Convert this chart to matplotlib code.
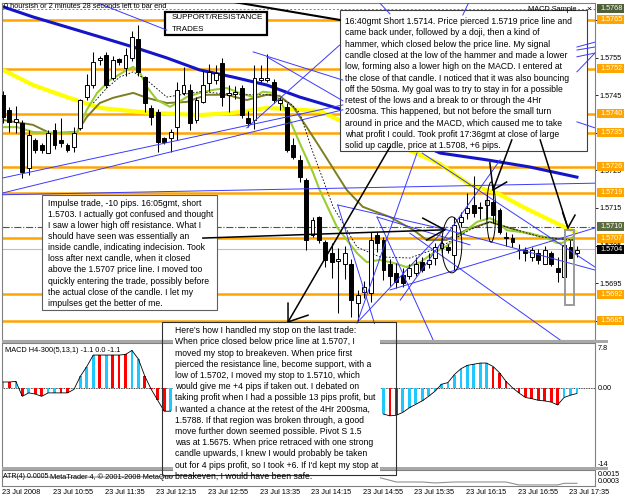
import matplotlib
matplotlib.use("Agg")
import matplotlib.pyplot as plt
import matplotlib.transforms as mtransforms
from matplotlib.patches import Rectangle, Ellipse
import numpy as np

# ---------------- data ----------------
time_labels = ["23 Jul 2008", "23 Jul 10:55", "23 Jul 11:35", "23 Jul 12:15", "23 Jul 12:55",
               "23 Jul 13:35", "23 Jul 14:15", "23 Jul 14:55", "23 Jul 15:35", "23 Jul 16:15",
               "23 Jul 16:55", "23 Jul 17:35"]
time_label_bars = [0, 8, 16, 24, 32, 40, 48, 56, 64, 72, 80, 88]

opens = [1.57450, 1.57410, 1.57378, 1.57376, 1.57256, 1.57330, 1.57318, 1.57296, 1.57357, 1.57330,
         1.57318, 1.57313, 1.57363, 1.57445, 1.57477, 1.57544, 1.57557, 1.57496, 1.57545, 1.57522,
         1.57549, 1.57600, 1.57498, 1.57416, 1.57405, 1.57336, 1.57336, 1.57365, 1.57456, 1.57464,
         1.57384, 1.57432, 1.57482, 1.57490, 1.57536, 1.57450, 1.57454, 1.57469, 1.57390, 1.57384,
         1.57490, 1.57490, 1.57485, 1.57430, 1.57419, 1.57318, 1.57278, 1.57224, 1.57078, 1.57126,
         1.57060, 1.57030, 1.57010, 1.57002, 1.57002, 1.56897, 1.56927, 1.56924, 1.57078, 1.57065,
         1.57002, 1.56977, 1.56972, 1.56969, 1.56977, 1.57007, 1.57002, 1.57017, 1.57044, 1.57046,
         1.57025, 1.57113, 1.57137, 1.57158, 1.57150, 1.57158, 1.57166, 1.57145, 1.57072, 1.57070,
         1.57039, 1.57038, 1.57020, 1.57030, 1.57000, 1.57030, 1.56991, 1.56966, 1.57046, 1.57030]
highs = [1.57460, 1.57419, 1.57420, 1.57385, 1.57357, 1.57336, 1.57324, 1.57357, 1.57376, 1.57389,
         1.57324, 1.57366, 1.57440, 1.57505, 1.57566, 1.57555, 1.57566, 1.57553, 1.57550, 1.57575,
         1.57620, 1.57637, 1.57502, 1.57423, 1.57413, 1.57340, 1.57360, 1.57485, 1.57525, 1.57479,
         1.57445, 1.57515, 1.57532, 1.57530, 1.57550, 1.57477, 1.57473, 1.57477, 1.57408, 1.57530,
         1.57530, 1.57560, 1.57494, 1.57445, 1.57430, 1.57336, 1.57291, 1.57230, 1.57126, 1.57130,
         1.57065, 1.57057, 1.57044, 1.57049, 1.57015, 1.56932, 1.56955, 1.57085, 1.57085, 1.57073,
         1.57015, 1.57004, 1.56990, 1.57000, 1.57020, 1.57020, 1.57030, 1.57057, 1.57070, 1.57055,
         1.57126, 1.57140, 1.57190, 1.57235, 1.57165, 1.57187, 1.57210, 1.57150, 1.57085, 1.57080,
         1.57055, 1.57045, 1.57045, 1.57040, 1.57050, 1.57035, 1.57020, 1.57060, 1.57065, 1.57050]
lows = [1.57375, 1.57352, 1.57350, 1.57230, 1.57238, 1.57296, 1.57296, 1.57296, 1.57307, 1.57313,
        1.57300, 1.57300, 1.57357, 1.57437, 1.57470, 1.57530, 1.57470, 1.57490, 1.57530, 1.57500,
        1.57540, 1.57500, 1.57405, 1.57370, 1.57300, 1.57320, 1.57300, 1.57330, 1.57450, 1.57357,
        1.57376, 1.57428, 1.57460, 1.57480, 1.57420, 1.57405, 1.57440, 1.57390, 1.57366, 1.57360,
        1.57486, 1.57486, 1.57430, 1.57410, 1.57300, 1.57280, 1.57218, 1.57038, 1.57073, 1.57057,
        1.56994, 1.56964, 1.56870, 1.56961, 1.56859, 1.56850, 1.56910, 1.56900, 1.57034, 1.56959,
        1.56943, 1.56938, 1.56940, 1.56960, 1.56970, 1.56980, 1.56990, 1.56998, 1.57030, 1.57030,
        1.56985, 1.57100, 1.57120, 1.57126, 1.57120, 1.57120, 1.57110, 1.57080, 1.57050, 1.57045,
        1.57015, 1.57010, 1.57010, 1.57000, 1.57000, 1.56995, 1.56954, 1.56966, 1.57017, 1.57020]
closes = [1.57392, 1.57379, 1.57386, 1.57246, 1.57344, 1.57304, 1.57304, 1.57350, 1.57318, 1.57323,
          1.57305, 1.57350, 1.57437, 1.57477, 1.57538, 1.57548, 1.57477, 1.57544, 1.57538, 1.57557,
          1.57605, 1.57512, 1.57429, 1.57392, 1.57326, 1.57326, 1.57352, 1.57464, 1.57477, 1.57376,
          1.57437, 1.57477, 1.57512, 1.57510, 1.57445, 1.57456, 1.57458, 1.57397, 1.57376, 1.57496,
          1.57495, 1.57495, 1.57437, 1.57437, 1.57304, 1.57286, 1.57232, 1.57065, 1.57118, 1.57065,
          1.57012, 1.57007, 1.57015, 1.57030, 1.56905, 1.56919, 1.56940, 1.57065, 1.57057, 1.56985,
          1.56969, 1.56953, 1.56951, 1.56990, 1.57002, 1.56985, 1.57012, 1.57046, 1.57057, 1.57038,
          1.57105, 1.57126, 1.57150, 1.57137, 1.57152, 1.57171, 1.57131, 1.57086, 1.57070, 1.57060,
          1.57037, 1.57030, 1.57038, 1.57012, 1.57038, 1.57000, 1.56980, 1.57052, 1.57017, 1.57038]

# moving averages (bar index, price)
fast_ma_bars = [0, 2.2, 4.65, 9.9, 11.5, 13.0, 14.6, 16.6, 19.2, 20.2, 21.2, 22.3, 23.9, 25.9, 27.0,
                28.5, 30.5, 32.6, 34.7, 36.7, 38.8, 40.3, 41.9, 42.9, 44.0, 46.0, 48.1, 49.1, 51.8,
                54.9, 56.4, 58.4, 60.5, 62.6, 64.7, 66.7, 68.8, 70.9, 73.5, 75.5, 76.7, 78.1, 81.7,
                84.3, 85.9, 86.7, 88.4]
fast_ma_prices = [1.57365, 1.57365, 1.57352, 1.57349, 1.57352, 1.57411, 1.57456, 1.57490, 1.57517,
                  1.57525, 1.57512, 1.57472, 1.57437, 1.57419, 1.57429, 1.57445, 1.57456, 1.57464,
                  1.57469, 1.57456, 1.57445, 1.57459, 1.57456, 1.57437, 1.57403, 1.57323, 1.57243,
                  1.57198, 1.57099, 1.57030, 1.57006, 1.57012, 1.57004, 1.56993, 1.57006, 1.57030,
                  1.57049, 1.57078, 1.57113, 1.57123, 1.57113, 1.57091, 1.57083, 1.57070, 1.57057,
                  1.57057, 1.57073]
slow_ma_bars = [0, 4.65, 7.3, 11.5, 13.0, 15.0, 17.1, 20.2, 22.3, 25.4, 28.5, 31.6, 34.7, 37.8, 40.9,
                42.9, 45.0, 47.1, 49.1, 53.3, 55.8, 60.0, 63.6, 65.7, 68.8, 71.9, 75.5, 78.1, 81.2,
                84.8, 88.4]
slow_ma_prices = [1.57384, 1.57371, 1.57349, 1.57352, 1.57392, 1.57429, 1.57443, 1.57456, 1.57443,
                  1.57429, 1.57432, 1.57451, 1.57451, 1.57437, 1.57451, 1.57448, 1.57419, 1.57365,
                  1.57312, 1.57198, 1.57153, 1.57126, 1.57092, 1.57065, 1.57065, 1.57092, 1.57113,
                  1.57099, 1.57083, 1.57070, 1.57065]
dash_ma_bars = [14.0, 16.1, 18.1, 20.2, 22.3, 25.4, 30.5, 36.7, 41.4, 44.5, 46.0, 48.1, 51.2, 54.9,
                58.4, 63.1, 67.8, 72.4, 75.5, 78.6, 83.3, 88.4]
dash_ma_prices = [1.57429, 1.57469, 1.57498, 1.57512, 1.57490, 1.57445, 1.57459, 1.57451, 1.57451,
                  1.57429, 1.57403, 1.57296, 1.57153, 1.57046, 1.57020, 1.57017, 1.57046, 1.57092,
                  1.57113, 1.57097, 1.57073, 1.57065]
h4_sma_bars = [0, 4.65, 15.0, 20.2, 25.4, 30.5, 35.7, 40.9, 46.0, 52.7, 67.8, 75.0, 81.7, 89.0]
h4_sma_prices = [1.57685, 1.57658, 1.57605, 1.57578, 1.57549, 1.57517, 1.57498, 1.57477, 1.57445,
                 1.57411, 1.57296, 1.57278, 1.57259, 1.57232]
yellow_ma_bars = [0, 4.65, 9.9, 15.0, 22.8, 30.5, 35.7, 40.9, 49.1, 52.7, 63.6, 67.8, 72.4, 76.6,
                  80.6, 84.8, 88.7]
yellow_ma_prices = [1.57517, 1.57477, 1.57445, 1.57416, 1.57403, 1.57397, 1.57403, 1.57416, 1.57408,
                    1.57379, 1.57299, 1.57267, 1.57211, 1.57190, 1.57153, 1.57118, 1.57086]

# MACD histogram (None where covered by the text note)
macd_values = ([1.0, 1.0, 1.1, -1.5, -0.9, -1.1, -1.5, -0.9, -0.9, -0.9, -0.9, -0.3, 2.0, 3.7, 5.7,
                5.7, 5.7, 5.7, 5.7, 5.8, 6.5, 5.0, 2.0, -0.3, -2.2, -4.1, -4.1]
               + [None] * 32
               + [-4.6, -4.9, -4.8, -4.3, -3.5, -2.9, -2.3, -1.5, -0.6, 0.6, 0.9, 2.3, 3.3, 3.9, 4.1,
                  4.3, 4.3, 3.7, 2.6, 1.1, 0.0, -0.9, -1.7, -1.9, -2.2, -2.3, -2.5, -3.0, -1.7, -1.3,
                  -1.0])
macd_colors = ("brbrbrrbbrrbbbbrbrrrbbrrrrb" + "-" * 32 + "brr" + "bbbbbbbbbbbbbb"
               + "rrrrrrrrrrr" + "bbb")

atr_bars = [0, 10, 20, 30, 40, 50, 58, 61, 65, 67, 70, 78, 80, 86, 87, 89]
atr_values = [0.0010, 0.00095, 0.0010, 0.00098, 0.00095, 0.0011, 0.00098, 0.0006, 0.0006, 0.00053,
              0.0006, 0.0006, 0.00038, 0.00038, 0.0005, 0.0005]

level_prices = [1.5765, 1.5752, 1.5740, 1.5735, 1.5726, 1.5719, 1.5707, 1.5692, 1.5685]
grid_prices = [1.5765, 1.5755, 1.5745, 1.5735, 1.5725, 1.5715, 1.5705, 1.5695, 1.5685]
marker_labels = [(1.5768, "#4f5f37"), (1.5710, "#5b6b3f"), (1.5704, "#000000")]

# trendlines drawn on the chart: (bar0, price0, bar1, price1)
trendlines = [
    (0.0, 1.57230, 52.7, 1.57424), (0.0, 1.57190, 52.7, 1.57411), (13.5, 1.57703, 25.4, 1.57623),
    (38.8, 1.57565, 52.7, 1.57490), (40.9, 1.57552, 52.7, 1.57435), (37.8, 1.57363, 52.2, 1.57583),
    (89.0, 1.57578, 91.8, 1.57591), (89.0, 1.57570, 91.8, 1.57578), (89.0, 1.57552, 91.8, 1.57562),
    (89.0, 1.57512, 91.8, 1.57562), (89.0, 1.57379, 91.8, 1.57363),
    (51.9, 1.57158, 58.4, 1.56799), (51.9, 1.57158, 68.8, 1.57092), (58.0, 1.57126, 66.7, 1.56799),
    (58.0, 1.57126, 72.4, 1.57052), (54.9, 1.56844, 64.2, 1.57296), (55.3, 1.56852, 68.8, 1.57099),
    (60.0, 1.56932, 91.8, 1.57097), (68.8, 1.57092, 91.8, 1.56985), (63.1, 1.57083, 86.4, 1.56799),
    (65.0, 1.57296, 91.8, 1.56993), (-0.5, 1.57185, 91.8, 1.57216), (61.6, 1.56905, 77.1, 1.57278),
    (58.0, 1.57703, 60.0, 1.57666), (71.3, 1.57663, 72.4, 1.57703),
]
# arrows: tail, head, two barb ends (bar, price)
arrows = [
    ((31.0, 1.57070), (68.5, 1.57092), (65.1, 1.57123), (65.7, 1.57065)),
    ((60.0, 1.57312), (44.2, 1.56847), (47.3, 1.56865), (44.2, 1.56897)),
    ((78.9, 1.57331), (76.0, 1.57198), (75.5, 1.57270), (78.1, 1.57219)),
    ((83.3, 1.57331), (87.6, 1.57097), (86.8, 1.57137), (88.7, 1.57131)),
]
top_black_line = (35.7, 1.57698, 52.2, 1.57650)
ellipses = [(69.6, 1.57052, 3.1, 0.00149), (75.7, 1.57139, 1.4, 0.00160)]
stop_rect = (87.1, 1.56892, 1.4, 0.00200)

note_top = ["16:40gmt Short 1.5714. Price pierced 1.5719 price line and",
            "came back under, followed by a doji, then a kind of",
            "hammer, which closed below the price line. My signal",
            "candle closed at the low of the hammer and made a lower",
            "low, forming also a lower high on the MACD. I entered at",
            "the close of that candle. I noticed that it was also bouncing",
            "off the 50sma. My goal was to try to stay in for a possible",
            "retest of the lows and a break to or through the 4Hr",
            "200sma. This happened, but not before the small turn",
            "around in price and the MACD, which caused me to take",
            "what profit I could. Took profit 17:36gmt at close of large",
            "solid up candle, price at 1.5708, +6 pips."]
note_impulse = ["Impulse trade, -10 pips. 16:05gmt, short",
                "1.5703. I actually got confused and thought",
                "I saw a lower high off resistance. What I",
                "should have seen was essentially an",
                "inside candle, indicating indecision. Took",
                "loss after next candle, when it closed",
                "above the 1.5707 price line. I moved too",
                "quickly entering the trade, possibly before",
                "the actual close of the candle. I let my",
                "impulses get the better of me."]
note_stop = ["Here's how I handled my stop on the last trade:",
             "When price closed below price line at 1.5707, I",
             "moved my stop to breakeven. When price first",
             "pierced the resistance line, become support, with a",
             "low of 1.5702, I moved my stop to 1.5710, which",
             "would give me +4 pips if taken out. I debated on",
             "taking profit when I had a possible 13 pips profit, but",
             "I wanted a chance at the retest of the 4Hr 200sma,",
             "1.5788. If that region was broken through, a good",
             "move further down seemed possible. Pivot S 1.5",
             "was at 1.5675. When price retraced with one strong",
             "candle upwards, I knew I would probably be taken",
             "out for 4 pips profit, so I took +6. If I'd kept my stop at",
             "breakeven, I would have been safe."]

# ---------------- figure ----------------
plt.rcParams['font.family'] = ['Liberation Sans', 'DejaVu Sans']
FW, FH = 625.0, 500.0
fig = plt.figure(figsize=(6.25, 5.0), dpi=100)
fig.patch.set_facecolor('white')


def frac(l, t, r, b):
    return [l / FW, 1 - b / FH, (r - l) / FW, (b - t) / FH]


GRID = '#808080'
ORANGE = '#ffa500'
BLUE_THIN = '#3a3aff'
XLIM = (-0.15, 91.8)

ax = fig.add_axes(frac(2, 3, 595, 340))
ax2 = fig.add_axes(frac(2, 343, 595, 468))
ax3 = fig.add_axes(frac(2, 470, 595, 486))
for a in (ax, ax2, ax3):
    a.set_xlim(*XLIM)
    a.set_xticks([])
    for s in a.spines.values():
        s.set_color(GRID)
        s.set_linewidth(0.8)
ax.set_ylim(1.56799, 1.57695)
ax2.set_ylim(-14, 7.8)
ax3.set_ylim(0.0003, 0.0015)

# price scale
ax.yaxis.tick_right()
ax.set_yticks(grid_prices)
ax.set_yticklabels([f"{p:.4f}" for p in grid_prices], fontsize=5.2)
ax.tick_params(axis='y', length=2, pad=1.5, width=0.6)
ax2.set_yticks([])
ax3.set_yticks([])

# horizontal levels
for p in level_prices:
    ax.axhline(p, color=ORANGE, lw=1.8, zorder=1)
ax.axhline(1.5768, color=GRID, lw=0.7, ls=(0, (2, 2)), zorder=1)
ax.axhline(1.5710, color='#4b5e2e', lw=0.8, ls='-.', zorder=1)
ax.axhline(1.5704, color='#c0c0c0', lw=0.8, zorder=1)

# moving averages
ax.plot(h4_sma_bars, h4_sma_prices, color='#1414c8', lw=2.2, zorder=2)
ax.plot(yellow_ma_bars, yellow_ma_prices, color='#ffff00', lw=3.0, zorder=2)
ax.plot(slow_ma_bars, slow_ma_prices, color='#7d7d22', lw=1.4, zorder=2.1)
ax.plot(fast_ma_bars, fast_ma_prices, color='#9acd32', lw=1.5, zorder=2.2)
ax.plot(dash_ma_bars, dash_ma_prices, color='black', lw=0.6, ls=(0, (2, 2)), zorder=2.3)

# candles
for i, (o, h, l, c) in enumerate(zip(opens, highs, lows, closes)):
    ax.vlines(i, l, h, color='black', lw=0.75, zorder=3)
    if abs(c - o) < 0.000015:
        ax.hlines(o, i - 0.3, i + 0.3, color='black', lw=0.8, zorder=3.1)
    else:
        ax.add_patch(Rectangle((i - 0.3, min(o, c)), 0.6, abs(c - o),
                               facecolor='white' if c > o else 'black',
                               edgecolor='black', lw=0.7, zorder=3.1))

# note boxes inside main chart (white filled)
def px_box(l, t, r, b, lw=0.8, ec='#404040', z=4):
    rect = Rectangle((l / FW, 1 - b / FH), (r - l) / FW, (b - t) / FH,
                     transform=fig.transFigure, facecolor='white', edgecolor=ec, lw=lw,
                     zorder=z, clip_on=False)
    ax.add_artist(rect)


px_box(340, 10, 587, 151)
px_box(42, 195, 217, 310, ec='#606060')
px_box(165, 12, 267, 35, lw=1.6, ec='black')

# trendlines
for b0, p0, b1, p1 in trendlines:
    ax.plot([b0, b1], [p0, p1], color=BLUE_THIN, lw=0.7, zorder=5)
ax.plot([top_black_line[0], top_black_line[2]], [top_black_line[1], top_black_line[3]],
        color='black', lw=1.5, zorder=5)
for tail, head, b1, b2 in arrows:
    ax.plot([tail[0], head[0]], [tail[1], head[1]], color='black', lw=1.1, zorder=5.2)
    ax.plot([b1[0], head[0], b2[0]], [b1[1], head[1], b2[1]], color='black', lw=1.1, zorder=5.2)
for cx, cy, w, h in ellipses:
    ax.add_patch(Ellipse((cx, cy), w, h, facecolor='none', edgecolor='black', lw=0.7, zorder=5))
ax.add_patch(Rectangle((stop_rect[0], stop_rect[1]), stop_rect[2], stop_rect[3],
                       facecolor='none', edgecolor='#9a9a9a', lw=1.4, zorder=5))

# note texts
tf = fig.transFigure
for k, line in enumerate(note_top):
    ax.text(345 / FW, 1 - (21.7 + 11.27 * k) / FH, line, transform=tf, fontsize=6.2,
            va='center', ha='left', zorder=6)
for k, line in enumerate(note_impulse):
    ax.text(48 / FW, 1 - (203.3 + 11.1 * k) / FH, line, transform=tf, fontsize=6.2,
            va='center', ha='left', zorder=6)
ax.text(172 / FW, 1 - 17.3 / FH, "SUPPORT/RESISTANCE", transform=tf, fontsize=5.8,
        va='center', zorder=6)
ax.text(172 / FW, 1 - 29.3 / FH, "TRADES", transform=tf, fontsize=5.8, va='center', zorder=6)
ax.text(4 / FW, 1 - 6.5 / FH, "0 hoursish or 2 minutes 28 seconds left to bar end",
        transform=tf, fontsize=5.3, va='center', zorder=6)
ax.text(528 / FW, 1 - 9.5 / FH, "MACD Sample", transform=tf, fontsize=5.3, va='center', zorder=6)
ax.text(586 / FW, 1 - 9.5 / FH, "\u00d7", transform=tf, fontsize=6, va='center', zorder=6)

# price label boxes on the right
tr_price = mtransforms.blended_transform_factory(fig.transFigure, ax.transData)
hh = 0.00012
for p in level_prices:
    fig.add_artist(Rectangle((597 / FW, p - hh), 27 / FW, 2 * hh, transform=tr_price,
                             facecolor=ORANGE, edgecolor='none', zorder=5))
    fig.text(600 / FW, p, f"{p:.4f}", transform=tr_price, color='white', fontsize=5.2,
             va='center', ha='left', zorder=6)
for p, col in marker_labels:
    fig.add_artist(Rectangle((597 / FW, p - hh), 27 / FW, 2 * hh, transform=tr_price,
                             facecolor=col, edgecolor='none', zorder=5))
    fig.text(600 / FW, p, f"{p:.4f}", transform=tr_price, color='white', fontsize=5.2,
             va='center', ha='left', zorder=6)

# MACD panel
mv = np.array([np.nan if v is None else v for v in macd_values], dtype=float)
cmap = {'b': '#1ec8ff', 'r': '#ff0000'}
for i, (v, c) in enumerate(zip(mv, macd_colors)):
    if c in cmap and not np.isnan(v):
        ax2.bar(i, v, width=0.42, color=cmap[c], zorder=2)
ax2.plot(np.arange(len(mv)), mv, color='black', lw=0.6, zorder=3)
ax2.axhline(0, color='black', lw=0.6, ls=(0, (1, 1)), zorder=1)
ax2.text(5 / FW, 1 - 350 / FH, "MACD H4-300(5,13,1) -1.1 0.0 -1.1", transform=tf,
         fontsize=5.3, va='center', zorder=6)
fig.text(598 / FW, 1 - 349 / FH, "7.8", fontsize=5.2, va='center')
fig.text(598 / FW, 1 - 388 / FH, "0.00", fontsize=5.2, va='center')
fig.text(598 / FW, 1 - 464 / FH, "-14", fontsize=5.2, va='center')

# ATR panel
ax3.plot(atr_bars, atr_values, color='#909090', lw=0.8)
ax3.text(3 / FW, 1 - 477 / FH, "ATR(4) 0.0005", transform=tf, fontsize=5.0, va='center')
ax3.text(50 / FW, 1 - 477 / FH, "MetaTrader 4, \u00a9 2001-2008 MetaQuotes", transform=tf,
         fontsize=5.3, va='center')
fig.text(598 / FW, 1 - 474 / FH, "0.0015", fontsize=5.2, va='center', zorder=0.9)
fig.text(598 / FW, 1 - 481.5 / FH, "0.0003", fontsize=5.2, va='center')

# panel separators
for t, b in ((340, 343), (467, 470)):
    fig.add_artist(Rectangle((2 / FW, 1 - b / FH), 606 / FW, (b - t) / FH, transform=tf,
                             facecolor='#a8a8a8', edgecolor='none', zorder=1))

# time axis
tr_time = mtransforms.blended_transform_factory(ax3.transData, fig.transFigure)
for b, lab in zip(time_label_bars, time_labels):
    fig.text(b - 0.2, 1 - 492.5 / FH, lab, transform=tr_time, fontsize=5.3, va='center',
             ha='left')

# "Here's how" note spanning the lower panels
fig.add_artist(Rectangle((173 / FW, 1 - 481 / FH), 207 / FW, 157 / FH, transform=tf,
                         facecolor='white', edgecolor='none', zorder=2))
fig.add_artist(Rectangle((161.5 / FW, 1 - 475 / FH), 234.5 / FW, 153 / FH, transform=tf,
                         facecolor='none', edgecolor='#303030', lw=0.8, zorder=2.5))
for k, line in enumerate(note_stop):
    fig.text(175 / FW, 1 - (330.7 + 11.2 * k) / FH, line, fontsize=6.2, va='center',
             ha='left', zorder=3)

fig.savefig("out.png", dpi=100)
